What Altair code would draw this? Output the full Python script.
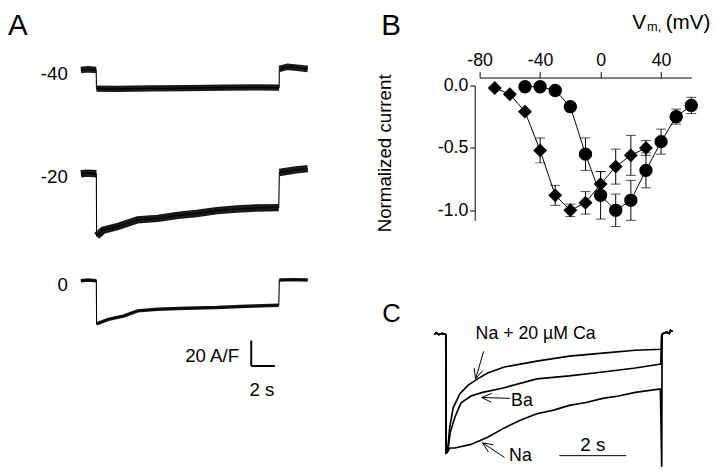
import math
import altair as alt
import pandas as pd

FONT = "Liberation Sans"

# ---------------- Panel A: whole-cell current traces (time s, current A/F) ----------------
a_labels = ["-40", "-20", "0"]
a_m40_t = [0.0, 0.6, 1.30, 1.32, 3.0, 6.0, 9.0, 12.0, 15.0, 16.78, 16.80, 17.5, 18.5, 19.2]
a_m40_i = [0.0, 0.5, 0.0, -14.6, -14.8, -14.4, -14.2, -13.8, -13.6, -13.8, 0.8, 2.5, 1.5, 0.8]
a_m20_t = [0.0, 0.6, 1.31, 1.33, 1.9, 3.2, 4.8, 6.5, 8.2, 9.8, 11.5, 13.2, 14.8, 16.75, 16.80, 18.2, 19.2]
a_m20_i = [0.0, 0.5, 0.0, -48.5, -44.0, -41.0, -36.0, -34.8, -32.5, -31.0, -28.8, -27.5, -26.7, -26.4, 1.0, 3.0, 4.0]
a_0_t = [0.0, 0.6, 1.31, 1.33, 2.33, 3.6, 4.8, 6.5, 8.2, 9.8, 11.5, 14.0, 16.75, 16.80, 18.0, 19.2]
a_0_i = [0.0, 0.5, 0.0, -33.8, -30.2, -27.7, -23.6, -22.3, -21.8, -21.3, -21.0, -20.0, -19.2, 0.5, 0.8, 0.5]
a_noise_px = [6.5, 7.5, 3.5]        # thickness of the recording-noise band of each sweep
a_bar_A_F = 20                      # scale bar: 20 A/F
a_bar_s = 2                         # scale bar: 2 s

# ---------------- Panel B: normalized I-V relations ----------------
b_v_dia = [-70, -60, -50, -40, -30, -20, -10, 0, 10, 20, 30]
b_i_dia = [-0.02, -0.07, -0.21, -0.52, -0.88, -1.00, -0.94, -0.79, -0.65, -0.56, -0.50]
b_e_dia = [0, 0, 0, 0.10, 0.08, 0.05, 0.09, 0.10, 0.14, 0.16, 0.06]
b_v_cir = [-50, -40, -30, -20, -10, 0, 10, 20, 30, 40, 50, 60]
b_i_cir = [-0.01, -0.01, -0.04, -0.17, -0.55, -0.88, -1.00, -0.92, -0.68, -0.45, -0.25, -0.16]
b_e_cir = [0, 0, 0, 0, 0.13, 0.19, 0.13, 0.16, 0.14, 0.10, 0.06, 0.065]
b_xticks = [-80, -40, 0, 40]
b_yticks = [0.0, -0.5, -1.0]

# ---------------- Panel C: normalized traces (time s, normalized current) ----------------
c_pre_t = [-0.35, -0.30, -0.22, -0.12, -0.01]
c_pre_i = [0.0, 0.015, 0.0, 0.01, 0.0]
c_post_t = [6.50, 6.58, 6.66, 6.70, 6.76]
c_post_i = [0.01, 0.02, 0.01, 0.035, 0.025]
c_ca_t = [0.0, 0.03, 0.06, 0.11, 0.21, 0.41, 0.65, 0.94, 1.24, 1.74, 2.71, 3.68, 4.68, 5.65, 6.43, 6.44]
c_ca_i = [-1.0, -1.0, -0.93, -0.78, -0.62, -0.50, -0.43, -0.375, -0.325, -0.275, -0.225, -0.183, -0.158, -0.133, -0.125, 0.0]
c_ba_t = [0.0, 0.05, 0.12, 0.26, 0.44, 0.74, 1.09, 1.74, 2.71, 3.68, 4.68, 5.65, 6.41, 6.44]
c_ba_i = [-1.0, -0.99, -0.83, -0.70, -0.58, -0.52, -0.49, -0.45, -0.375, -0.35, -0.317, -0.283, -0.25, 0.0]
c_na_t = [0.0, 0.12, 0.26, 0.74, 1.24, 1.74, 2.21, 2.71, 3.21, 3.68, 4.18, 4.68, 5.15, 5.65, 6.40, 6.44, 6.45]
c_na_i = [-1.0, -0.96, -0.96, -0.93, -0.87, -0.79, -0.725, -0.67, -0.64, -0.60, -0.575, -0.54, -0.52, -0.49, -0.46, -1.12, 0.0]
c_bar_s = 2

# Layout: panel A's and panel B's plot origins share one row (page y 85);
# panel C's plot origin sits under panel B's (page x 482).
LABEL_Y = -75          # top of the panel letters, relative to the row origin

# ======================= PANEL A =======================
A_W, A_H = 373, 380
A_X0, A_Y0 = 74.0, -15.7           # px of t=0 / of the -40 baseline from the panel origin
A_PXS, A_PXI = 12.0, 1.3           # px per s, px per A/F
A_OFFSETS = [0.0, -81.1, -164.6]   # vertical stacking of the three sweeps (A/F)
a_xdom = [-A_X0 / A_PXS, (A_W - A_X0) / A_PXS]
a_ydom = [-(A_H - A_Y0) / A_PXI, A_Y0 / A_PXI]

rows = []
for lab, ts, cs, w, off in zip(a_labels, [a_m40_t, a_m20_t, a_0_t], [a_m40_i, a_m20_i, a_0_i], a_noise_px, A_OFFSETS):
    phase = 0
    for k, (t, c) in enumerate(zip(ts, cs)):
        if k > 0 and t - ts[k - 1] < 0.06:
            phase += 1
        rows.append({"trace": lab, "phase": phase, "k": k, "t": t, "y": c + off, "w": w})
dfA = pd.DataFrame(rows)


def xA(f="t"):
    return alt.X(f"{f}:Q", scale=alt.Scale(domain=a_xdom, nice=False, zero=False), axis=None)


def yA(f="y"):
    return alt.Y(f"{f}:Q", scale=alt.Scale(domain=a_ydom, nice=False, zero=False), axis=None)


a_band = alt.Chart(dfA).mark_line(color="black", opacity=0.9, strokeCap="butt").encode(
    x=xA(), y=yA(), detail=["trace:N", "phase:N"], order="k:Q",
    strokeWidth=alt.StrokeWidth("w:Q", scale=None, legend=None))
a_line = alt.Chart(dfA).mark_line(color="black", strokeWidth=1.1).encode(
    x=xA(), y=yA(), detail="trace:N", order="k:Q")

dfAlab = pd.DataFrame({"t": [-1.1] * 3, "y": [o + d for o, d in zip(A_OFFSETS, [-3.6, -2.5, -3.6])], "txt": a_labels})
a_lab = alt.Chart(dfAlab).mark_text(align="right", baseline="middle", fontSize=19, font=FONT, color="black").encode(
    x=xA(), y=yA(), text="txt:N")

bar_t0, bar_y0 = 14.42, -231.3
dfAbar = pd.DataFrame({"t": [bar_t0, bar_t0], "t2": [bar_t0, bar_t0 + a_bar_s],
                       "y": [bar_y0, bar_y0], "y2": [bar_y0 + a_bar_A_F, bar_y0]})
a_bar = alt.Chart(dfAbar).mark_rule(color="black", strokeWidth=2).encode(x=xA(), x2="t2", y=yA(), y2="y2")
dfAbt1 = pd.DataFrame({"t": [13.4], "y": [-223.6], "txt": [f"{a_bar_A_F} A/F"]})
dfAbt2 = pd.DataFrame({"t": [bar_t0 + a_bar_s / 2 - 0.1], "y": [-250.0], "txt": [f"{a_bar_s} s"]})
a_bt1 = alt.Chart(dfAbt1).mark_text(align="right", baseline="middle", fontSize=19, font=FONT, color="black").encode(
    x=xA(), y=yA(), text="txt:N")
a_bt2 = alt.Chart(dfAbt2).mark_text(align="center", baseline="middle", fontSize=19, font=FONT, color="black").encode(
    x=xA(), y=yA(), text="txt:N")


def vtext(txt, x, y, size, baseline="top"):
    return alt.Chart(pd.DataFrame({"p": [txt]})).mark_text(
        align="left", baseline=baseline, fontSize=size, font=FONT, color="black").encode(
        x=alt.value(x), y=alt.value(y), text="p:N")


a_panel = vtext("A", 0, LABEL_Y, 30)

chartA = alt.layer(a_band, a_line, a_lab, a_bar, a_bt1, a_bt2, a_panel).properties(width=A_W, height=A_H)

# ======================= PANEL B =======================
B_W, B_H = 215, 137
fix_minus = "replace(datum.label, '\u2212', '-')"


def xB(f="V"):
    return alt.X(f"{f}:Q", scale=alt.Scale(domain=[-80, 60], nice=False, zero=False),
                 axis=alt.Axis(orient="top", values=b_xticks, offset=8, tickSize=6, labelPadding=2,
                               labelFontSize=18, labelFont=FONT, labelColor="black", labelFlush=False,
                               labelOverlap=False, domainColor="black", tickColor="black", grid=False,
                               title=None, labelExpr=fix_minus))


def yB(f="I"):
    return alt.Y(f"{f}:Q", scale=alt.Scale(domain=[-1.08, 0.0], nice=False, zero=False),
                 axis=alt.Axis(orient="left", values=b_yticks, format=".1f", offset=5, tickSize=5, labelPadding=2,
                               labelFontSize=18, labelFont=FONT, labelColor="black", labelFlush=False,
                               labelOverlap=False, domainColor="black", tickColor="black", grid=False,
                               title="Normalized current", titleFontSize=19, titleFont=FONT,
                               titleFontWeight="normal", titleColor="black", titlePadding=43,
                               labelExpr=fix_minus))


dfB = pd.concat([
    pd.DataFrame({"V": b_v_dia, "I": b_i_dia, "E": b_e_dia, "s": "dia"}),
    pd.DataFrame({"V": b_v_cir, "I": b_i_cir, "E": b_e_cir, "s": "cir"}),
], ignore_index=True)
dfB["lo"] = dfB["I"] - dfB["E"]
dfB["hi"] = dfB["I"] + dfB["E"]
dfBe = dfB[dfB["E"] > 0]

b_lines = alt.Chart(dfB).mark_line(color="black", strokeWidth=1).encode(x=xB(), y=yB(), detail="s:N")
b_err = alt.Chart(dfBe).mark_rule(color="black", strokeWidth=1).encode(x=xB(), y=yB("lo"), y2="hi")
b_cap_lo = alt.Chart(dfBe).mark_tick(color="black", orient="horizontal", size=10, thickness=1).encode(x=xB(), y=yB("lo"))
b_cap_hi = alt.Chart(dfBe).mark_tick(color="black", orient="horizontal", size=10, thickness=1).encode(x=xB(), y=yB("hi"))
b_dia = alt.Chart(dfB[dfB["s"] == "dia"]).mark_point(shape="diamond", filled=True, size=200, color="black", opacity=1).encode(x=xB(), y=yB())
b_cir = alt.Chart(dfB[dfB["s"] == "cir"]).mark_point(shape="circle", filled=True, size=185, color="black", opacity=1).encode(x=xB(), y=yB())

b_panel = vtext("B", -100, LABEL_Y, 30)
b_t1 = vtext("V", 155, LABEL_Y + 1, 21)
b_t2 = vtext("m,", 170, LABEL_Y + 20, 13, baseline="alphabetic")
b_t3 = vtext("(mV)", 189, LABEL_Y + 1, 21)

chartB = alt.layer(b_lines, b_err, b_cap_lo, b_cap_hi, b_dia, b_cir, b_panel, b_t1, b_t2, b_t3).properties(width=B_W, height=B_H)

# ======================= PANEL C =======================
C_W, C_H = 236, 236
C_X0, C_Y0 = -34.0, 104.0          # px of pulse onset / of the zero-current baseline from the panel origin
C_PXS, C_PXI = 34.0, 120.0         # px per s, px per normalized unit
c_xdom = [-C_X0 / C_PXS, (C_W - C_X0) / C_PXS]
c_ydom = [-(C_H - C_Y0) / C_PXI, C_Y0 / C_PXI]

rows = []
for name, ts, cs in [("ca", c_ca_t, c_ca_i), ("ba", c_ba_t, c_ba_i), ("na", c_na_t, c_na_i)]:
    tt = c_pre_t + ts + c_post_t
    ii = c_pre_i + cs + c_post_i
    for k, (t, c) in enumerate(zip(tt, ii)):
        rows.append({"trace": name, "k": k, "t": t, "i": c})
dfC = pd.DataFrame(rows)


def xC(f="t"):
    return alt.X(f"{f}:Q", scale=alt.Scale(domain=c_xdom, nice=False, zero=False), axis=None)


def yC(f="i"):
    return alt.Y(f"{f}:Q", scale=alt.Scale(domain=c_ydom, nice=False, zero=False), axis=None)


c_lines = alt.Chart(dfC).mark_line(color="black", strokeWidth=1.7).encode(x=xC(), y=yC(), detail="trace:N", order="k:Q")


def arrow(tail, tip, L=11.0, spread=24.0):
    dx = (tail[0] - tip[0]) * C_PXS
    dy = -(tail[1] - tip[1]) * C_PXI
    a = math.atan2(dy, dx)
    segs = [(tail, tip)]
    for s in (-1, 1):
        b = a + s * math.radians(spread)
        hx, hy = L * math.cos(b), L * math.sin(b)
        segs.append((tip, (tip[0] + hx / C_PXS, tip[1] - hy / C_PXI)))
    return segs


segs = (arrow((1.12, -0.142), (0.88, -0.375)) +
        arrow((1.91, -0.540), (1.06, -0.533)) +
        arrow((1.74, -1.040), (1.09, -0.917)))
bar_c0, bar_ci = 3.38, -1.025
segs.append(((bar_c0, bar_ci), (bar_c0 + c_bar_s, bar_ci)))
dfCseg = pd.DataFrame({"t": [s[0][0] for s in segs], "i": [s[0][1] for s in segs],
                       "t2": [s[1][0] for s in segs], "i2": [s[1][1] for s in segs]})
c_segs = alt.Chart(dfCseg).mark_rule(color="black", strokeWidth=1).encode(x=xC(), y=yC(), x2="t2", y2="i2")

dfCtxt = pd.DataFrame({"t": [0.88, 1.94, 1.88], "i": [0.0, -0.567, -1.025],
                       "txt": ["Na + 20 \u00b5M Ca", "Ba", "Na"]})
c_txt = alt.Chart(dfCtxt).mark_text(align="left", baseline="middle", fontSize=18, font=FONT, color="black").encode(
    x=xC(), y=yC(), text="txt:N")
dfCbt = pd.DataFrame({"t": [bar_c0 + c_bar_s / 2], "i": [-0.933], "txt": [f"{c_bar_s} s"]})
c_bt = alt.Chart(dfCbt).mark_text(align="center", baseline="middle", fontSize=19, font=FONT, color="black").encode(
    x=xC(), y=yC(), text="txt:N")
c_panel = vtext("C", -99, 70, 26)

chartC = alt.layer(c_lines, c_segs, c_txt, c_bt, c_panel).properties(width=C_W, height=C_H)

chart = alt.hconcat(chartA, alt.vconcat(chartB, chartC, spacing=0), spacing=0, padding=0).configure_view(stroke=None)

chart.save("out.html", embed_options={"renderer": "svg", "actions": False})
